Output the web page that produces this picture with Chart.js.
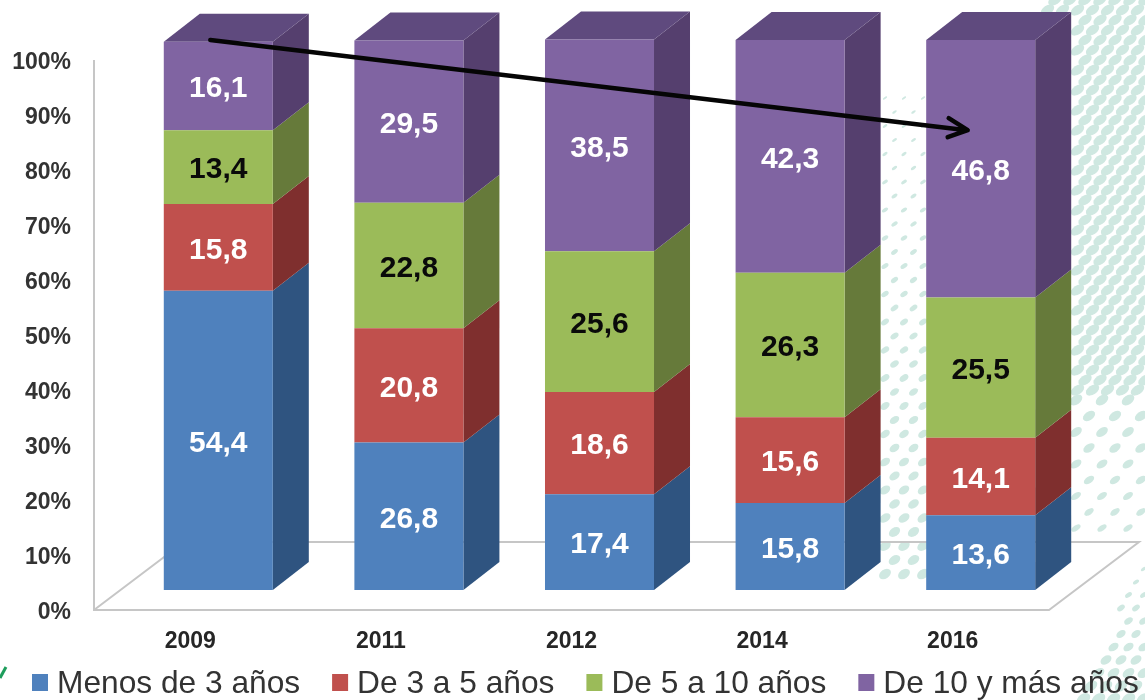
<!DOCTYPE html>
<html lang="es">
    <head>
        <meta charset="UTF-8">
        <title>Antigüedad</title>
        <script src="https://cdn.jsdelivr.net/npm/chart.js@4/dist/chart.umd.min.js"></script>
        <style>
            html, body { margin: 0; padding: 0; background: #fff; overflow: hidden; }
            canvas { display: block; }
        </style>
    </head>
    <body>
        <canvas id="graph" width="1145" height="700"></canvas>
        <script>
            const years = ['2009', '2011', '2012', '2014', '2016'];
            const menos3 = [54.4, 26.8, 17.4, 15.8, 13.6];
            const de3a5 = [15.8, 20.8, 18.6, 15.6, 14.1];
            const de5a10 = [13.4, 22.8, 25.6, 26.3, 25.5];
            const de10 = [16.1, 29.5, 38.5, 42.3, 46.8];
            const seriesNames = ['Menos de 3 años', 'De 3 a 5 años', 'De 5 a 10 años', 'De 10 y más años'];
            // arrow runs from the top of the first bar down to this level on the last one
            const arrowFrom = 100;
            const arrowTo = 83.6;

            const fronts = ['#4f81bd', '#c0504d', '#9bbb59', '#8064a2'];
            const sides = ['#2f5480', '#7f2f2e', '#667a3a', '#553f6e'];
            const labelColors = ['#fff', '#fff', '#0a0a0a', '#fff'];
            const topFace = '#5f4a7e';
            const fontName = '"Liberation Sans", Arial, sans-serif';

            const depthX = 36, depthY = 28;   // 3d offset of each bar
            const floorX = 90, floorY = 68;   // depth of the floor plate
            const axisDrop = 20;              // the axis sits in front of the bars

            function dots(ctx, x0, x1, y0, y1, dx, dy, sizeAt) {
                let row = 0;
                for (let y = y0; y < y1; y += dy, row++) {
                    for (let x = x0 + (row % 2 ? dx / 2 : 0); x < x1; x += dx) {
                        const s = sizeAt(x, y);
                        if (!s) continue;
                        ctx.beginPath();
                        ctx.ellipse(x, y, s[0], s[1], -0.6, 0, Math.PI * 2);
                        ctx.fill();
                    }
                }
            }

            // pale halftone wave behind the chart
            const backdrop = {
                id: 'backdrop',
                beforeDraw(chart) {
                    const ctx = chart.ctx;
                    ctx.save();
                    ctx.fillStyle = '#cfe8e1';
                    dots(ctx, 1040, 1150, 0, 400, 15, 10, (x, y) => {
                        const edge = y < 20 ? 1040 : 1074;
                        return x > edge ? [7.5, 4.5] : null;
                    });
                    dots(ctx, 1076, 1150, 400, 540, 26, 16, (x, y) => {
                        const t = (y - 400) / 140;
                        return [7 - 2 * t, 4.5 - 2 * t];
                    });
                    dots(ctx, 885, 930, 98, 575, 19, 14, (x, y) => {
                        const t = (y - 98) / 477;
                        return [2.5 + 4 * t, 1 + 3.5 * t];
                    });
                    dots(ctx, 1076, 1150, 556, 704, 15, 13, (x, y) => {
                        const edge = 1150 - (y - 550) * 0.5;
                        if (x < edge) return null;
                        const t = (y - 556) / 148;
                        return [2.5 + 5 * t, 1.2 + 4 * t];
                    });
                    ctx.strokeStyle = '#1e9d5c';
                    ctx.lineWidth = 3;
                    ctx.beginPath();
                    ctx.moveTo(0, 678);
                    ctx.lineTo(6, 667);
                    ctx.stroke();
                    ctx.restore();
                }
            };

            function face(ctx, color, pts) {
                ctx.fillStyle = color;
                ctx.beginPath();
                pts.forEach((p, i) => i ? ctx.lineTo(p[0], p[1]) : ctx.moveTo(p[0], p[1]));
                ctx.closePath();
                ctx.fill();
            }

            // floor, axis line and the shaded faces of the bars
            const solids = {
                id: 'solids',
                beforeDatasetsDraw(chart) {
                    const ctx = chart.ctx;
                    const area = chart.chartArea;
                    const axisX = area.left - 29;
                    const y0 = chart.scales.y.getPixelForValue(0) + axisDrop;
                    const y100 = chart.scales.y.getPixelForValue(100) + axisDrop;
                    const floorRight = 1049;

                    ctx.save();
                    ctx.strokeStyle = '#c6c6c6';
                    ctx.lineWidth = 2;
                    ctx.beginPath();
                    ctx.moveTo(axisX, y100);
                    ctx.lineTo(axisX, y0);
                    ctx.lineTo(floorRight, y0);
                    ctx.lineTo(floorRight + floorX, y0 - floorY);
                    ctx.lineTo(axisX + floorX, y0 - floorY);
                    ctx.lineTo(axisX, y0);
                    ctx.stroke();

                    chart.data.datasets.forEach((ds, i) => {
                        chart.getDatasetMeta(i).data.forEach(bar => {
                            const right = bar.x + bar.width / 2;
                            const left = bar.x - bar.width / 2;
                            face(ctx, sides[i], [
                                [right, bar.base], [right, bar.y],
                                [right + depthX, bar.y - depthY], [right + depthX, bar.base - depthY]
                            ]);
                            if (i === chart.data.datasets.length - 1) {
                                face(ctx, topFace, [
                                    [left, bar.y], [right, bar.y],
                                    [right + depthX, bar.y - depthY], [left + depthX, bar.y - depthY]
                                ]);
                            }
                        });
                    });
                    ctx.restore();
                }
            };

            // values on the bars, trend arrow and the legend row
            const overlays = {
                id: 'overlays',
                afterDatasetsDraw(chart) {
                    const ctx = chart.ctx;
                    const yScale = chart.scales.y;
                    const xScale = chart.scales.x;
                    ctx.save();

                    ctx.font = 'bold 30px ' + fontName;
                    ctx.textAlign = 'center';
                    ctx.textBaseline = 'middle';
                    chart.data.datasets.forEach((ds, i) => {
                        ctx.fillStyle = labelColors[i];
                        chart.getDatasetMeta(i).data.forEach((bar, j) => {
                            const text = ds.data[j].toFixed(1).replace('.', ',');
                            ctx.fillText(text, bar.x, (bar.y + bar.base) / 2 + 3);
                        });
                    });

                    const ax = xScale.getPixelForValue(0) - 8;
                    const ay = yScale.getPixelForValue(arrowFrom);
                    const bx = xScale.getPixelForValue(years.length - 1) - 12;
                    const by = yScale.getPixelForValue(arrowTo);
                    ctx.strokeStyle = '#050505';
                    ctx.lineWidth = 4.5;
                    ctx.lineCap = 'round';
                    ctx.lineJoin = 'round';
                    ctx.beginPath();
                    ctx.moveTo(ax, ay);
                    ctx.lineTo(bx - 2, by);
                    ctx.moveTo(bx - 20, by - 12);
                    ctx.lineTo(bx - 1, by);
                    ctx.lineTo(bx - 21, by + 7);
                    ctx.stroke();

                    ctx.font = '31.7px ' + fontName;
                    ctx.textAlign = 'left';
                    let x = 32;
                    chart.data.datasets.forEach((ds, i) => {
                        ctx.fillStyle = fronts[i];
                        ctx.fillRect(x, 674, 16, 17);
                        ctx.fillStyle = '#333';
                        ctx.fillText(ds.label, x + 25, 684);
                        x += 25 + ctx.measureText(ds.label).width + 32;
                    });
                    ctx.restore();
                }
            };

            const ctx = document.getElementById('graph').getContext('2d');
            const seriesData = [menos3, de3a5, de5a10, de10];
            new Chart(ctx, {
                type: 'bar',
                data: {
                    labels: years,
                    datasets: seriesData.map((values, i) => ({
                        label: seriesNames[i],
                        data: values,
                        backgroundColor: fronts[i],
                        borderWidth: 0,
                        barPercentage: 0.572,
                        categoryPercentage: 1,
                        clip: false
                    }))
                },
                options: {
                    responsive: false,
                    animation: false,
                    layout: { padding: { top: 40, right: 69, left: 0, bottom: 0 } },
                    plugins: { legend: { display: false }, tooltip: { enabled: false } },
                    scales: {
                        x: {
                            stacked: true,
                            grid: { display: false, drawTicks: false },
                            border: { display: false },
                            afterFit(scale) { scale.height = 110; },
                            ticks: {
                                labelOffset: -28,
                                padding: 38,
                                maxRotation: 0,
                                autoSkip: false,
                                color: '#262626',
                                font: { family: fontName, size: 23, weight: 'bold' }
                            }
                        },
                        y: {
                            stacked: true,
                            min: 0,
                            max: 100,
                            grid: { display: false, drawTicks: false },
                            border: { display: false },
                            afterFit(scale) {
                                scale.width = 123;
                                scale.paddingTop = 0;
                                scale.paddingBottom = 0;
                            },
                            ticks: {
                                stepSize: 10,
                                labelOffset: axisDrop + 2.5,
                                padding: 52,
                                color: '#333',
                                font: { family: fontName, size: 23, weight: 'bold' },
                                callback: value => value + '%'
                            }
                        }
                    }
                },
                plugins: [backdrop, solids, overlays]
            });
        </script>
    </body>
</html>
